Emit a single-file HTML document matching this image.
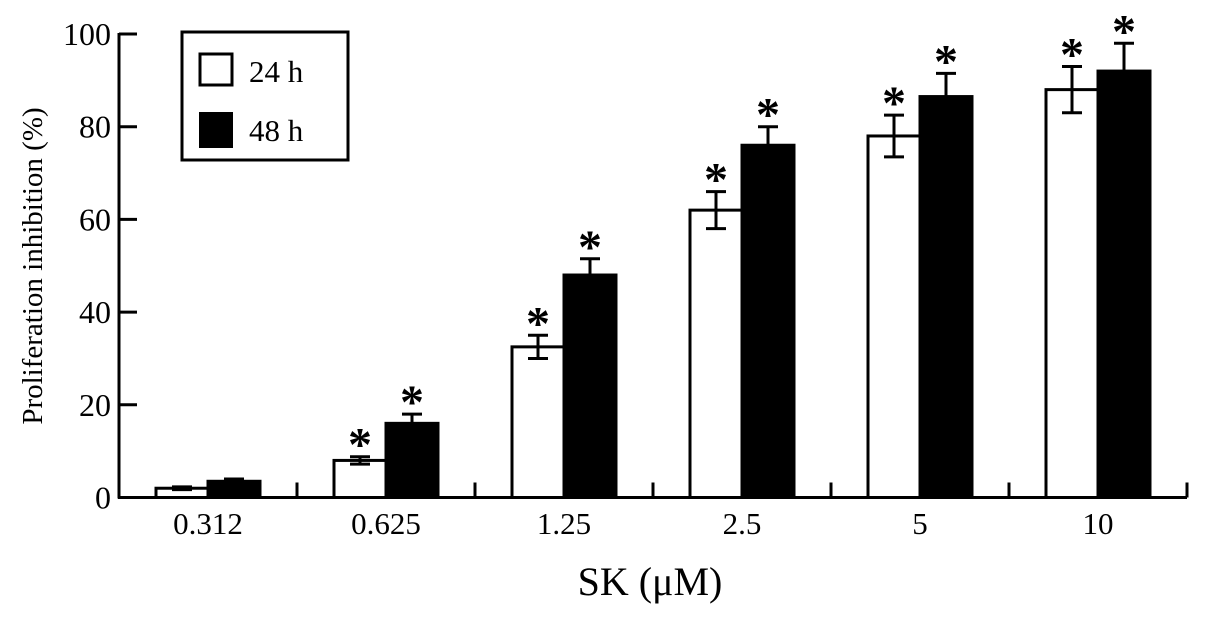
<!DOCTYPE html>
<html><head><meta charset="utf-8"><style>
body{margin:0;background:#fff}
text{font-family:"Liberation Serif",serif;fill:#000}
</style></head><body>
<svg id="c" width="1205" height="620" viewBox="0 0 1205 620">
<g id="g"></g>
<text x="0" y="0" transform="translate(42,266) rotate(-90)" text-anchor="middle" font-size="29">Proliferation inhibition (%)</text>
<text x="650" y="595" text-anchor="middle" font-size="40">SK (μM)</text>
<g>
<rect x="182" y="32" width="166" height="128" fill="#fff" stroke="#000" stroke-width="3"/>
<rect x="200" y="54" width="32" height="31" fill="#fff" stroke="#000" stroke-width="3"/>
<text x="249" y="82" font-size="31">24 h</text>
<rect x="200" y="113" width="32" height="34" fill="#000" stroke="#000" stroke-width="2"/>
<text x="249" y="141" font-size="31">48 h</text>
</g>
</svg>
<script>
const categories=["0.312","0.625","1.25","2.5","5","10"];
const values24=[2,8,32.5,62,78,88];
const errors24=[0.3,0.8,2.5,4,4.5,5];
const values48=[3.5,16,48,76,86.5,92];
const errors48=[0.5,2,3.5,4,5,6];
const sig24=[false,true,true,true,true,true];
const sig48=[false,true,true,true,true,true];
const yTicks=[0,20,40,60,80,100];
const NS="http://www.w3.org/2000/svg";
const g=document.getElementById('g');
const X0=119,GW=178,Y0=497.5,SC=4.635,BW=52;
const y=v=>Y0-v*SC;
const gx=i=>X0+GW*i;
function mk(t,a,p){const e=document.createElementNS(NS,t);for(const k in a)e.setAttribute(k,a[k]);(p||g).appendChild(e);return e;}
let ax=mk('line',{x1:X0,y1:y(100)-1,x2:X0,y2:Y0+1,stroke:'#000','stroke-width':3});


let bx=mk('line',{x1:X0-1,y1:Y0,x2:gx(6),y2:Y0,stroke:'#000','stroke-width':3});


yTicks.forEach(t=>{
 const l=mk('line',{x1:X0,y1:y(t),x2:X0+18,y2:y(t),stroke:'#000','stroke-width':3});
 
 
 const tx=mk('text',{x:X0-8,y:y(t)+11,'text-anchor':'end','font-size':32});
 tx.textContent=t;
 
 
});
for(let i=1;i<=6;i++){
 const l=mk('line',{x1:gx(i),y1:Y0,x2:gx(i),y2:Y0-15,stroke:'#000','stroke-width':3});
 
 
}
function bar(x,v,e,fill,sig,name){
 const r=mk('rect',{x:x,y:y(v),width:BW,height:Y0-y(v),fill:fill,stroke:'#000','stroke-width':3});
 
 
 const cx=x+BW/2;
 const eb=mk('path',{d:`M${cx},${y(v-e)}V${y(v+e)}M${cx-10},${y(v+e)}H${cx+10}M${cx-10},${y(v-e)}H${cx+10}`,stroke:'#000','stroke-width':3,fill:'none'});
 
 
 if(sig){const s=mk('text',{x:cx,y:y(v+e)+4,'text-anchor':'middle','font-size':48,'font-weight':'bold'});
 s.textContent='*';
 
 }
}
categories.forEach((c,i)=>{
 const x=gx(i)+37;
 bar(x,values24[i],errors24[i],'#fff',sig24[i],'bar-24h-'+c);
 bar(x+BW,values48[i],errors48[i],'#000',sig48[i],'bar-48h-'+c);
 const t=mk('text',{x:gx(i)+GW/2,y:534,'text-anchor':'middle','font-size':31});
 t.textContent=c;
 
 
});
</script>
</body></html>
